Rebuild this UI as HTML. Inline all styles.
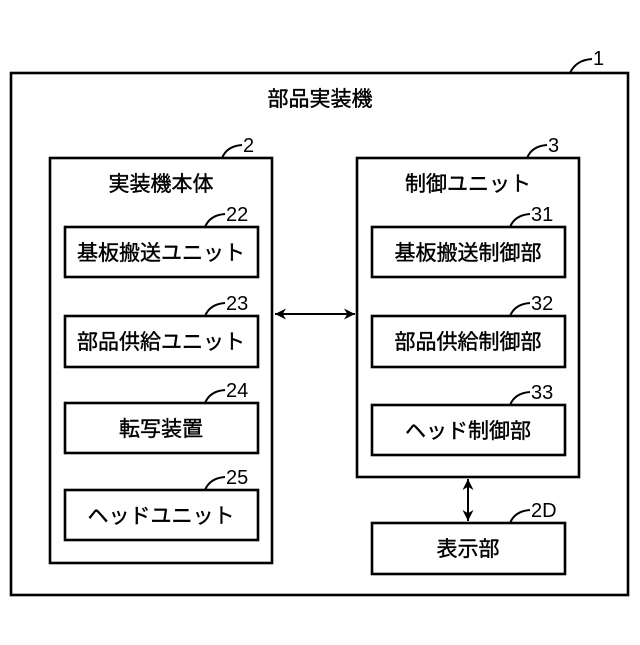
<!DOCTYPE html>
<html><head><meta charset="utf-8"><style>
body{margin:0;background:#fff}
svg text{font-family:"Liberation Sans","Noto Sans CJK JP",sans-serif;fill:#000}
</style></head><body>
<svg width="640" height="640" viewBox="0 0 640 640" xmlns="http://www.w3.org/2000/svg">
<defs><marker id="a" viewBox="0 0 10 10" refX="10" refY="5" markerWidth="12" markerHeight="11" orient="auto-start-reverse" markerUnits="userSpaceOnUse"><path d="M0,0 L10,5 L0,10 L3,5 Z" fill="#000"/></marker></defs>
<g fill="none" stroke="#000" stroke-width="2.6">
<rect x="11" y="73" width="617" height="522"/>
<rect x="50" y="158" width="222" height="405"/>
<rect x="65" y="227" width="193" height="50"/>
<rect x="65" y="316" width="193" height="51"/>
<rect x="65" y="403" width="193" height="50"/>
<rect x="65" y="490" width="193" height="50"/>
<rect x="357" y="158" width="222" height="319"/>
<rect x="372" y="227" width="193" height="50"/>
<rect x="372" y="316" width="193" height="51"/>
<rect x="372" y="405" width="193" height="50"/>
<rect x="372" y="523" width="193" height="51"/>
</g>
<g fill="none" stroke="#000" stroke-width="2">
<line x1="275" y1="314" x2="355" y2="314" marker-start="url(#a)" marker-end="url(#a)"/>
<line x1="468" y1="479" x2="468" y2="521" marker-start="url(#a)" marker-end="url(#a)"/>
<path d="M570,73 Q576,60 592,59"/>
<path d="M222,158 Q227,146 242,145"/>
<path d="M205,227 Q210,215 225,214"/>
<path d="M205,316 Q210,304 225,303"/>
<path d="M205,403 Q210,391 225,390"/>
<path d="M205,490 Q210,478 225,477"/>
<path d="M527,158 Q532,146 547,145"/>
<path d="M510,227 Q515,215 530,214"/>
<path d="M510,316 Q515,304 530,303"/>
<path d="M510,405 Q515,393 530,392"/>
<path d="M510,523 Q515,511 530,510"/>
</g>
<g font-size="21" text-anchor="middle" stroke="#000" stroke-width="0.4">
<text x="320" y="106">部品実装機</text>
<text x="161" y="191">実装機本体</text>
<text x="468" y="191">制御ユニット</text>
<text x="161" y="260">基板搬送ユニット</text>
<text x="161" y="349">部品供給ユニット</text>
<text x="161" y="436">転写装置</text>
<text x="161" y="523">ヘッドユニット</text>
<text x="468" y="260">基板搬送制御部</text>
<text x="468" y="349">部品供給制御部</text>
<text x="468" y="438">ヘッド制御部</text>
<text x="468" y="556">表示部</text>
</g>
<g font-size="20">
<text x="593" y="65">1</text>
<text x="243" y="152">2</text>
<text x="226" y="221">22</text>
<text x="226" y="310">23</text>
<text x="226" y="397">24</text>
<text x="226" y="484">25</text>
<text x="548" y="152">3</text>
<text x="531" y="221">31</text>
<text x="531" y="310">32</text>
<text x="531" y="399">33</text>
<text x="531" y="517">2D</text>
</g>
</svg>
</body></html>
